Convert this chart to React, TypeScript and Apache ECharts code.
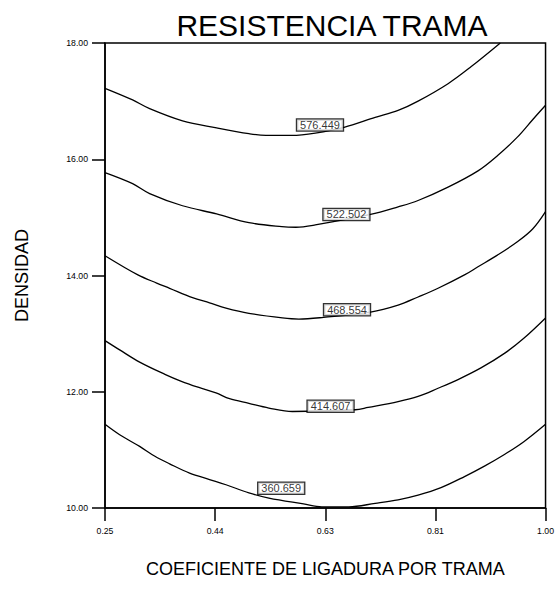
import React, { useEffect, useRef } from "react";
import * as echarts from "echarts";

const xTicks = [0.25, 0.4375, 0.625, 0.8125, 1.0];
const xTickLabels = ["0.25", "0.44", "0.63", "0.81", "1.00"];
const yTicks = [10, 12, 14, 16, 18];

const contourLevels = ["576.449", "522.502", "468.554", "414.607", "360.659"];

const curve576 = [
  [0.25, 17.22], [0.297, 17.02], [0.326, 16.87], [0.382, 16.66], [0.44, 16.54],
  [0.495, 16.44], [0.524, 16.41], [0.568, 16.41], [0.608, 16.45], [0.657, 16.55],
  [0.71, 16.72], [0.749, 16.84], [0.783, 17.0], [0.834, 17.3], [0.873, 17.59], [0.923, 18.0],
];
const curve522 = [
  [0.25, 15.77], [0.297, 15.58], [0.326, 15.41], [0.382, 15.2], [0.44, 15.06],
  [0.495, 14.91], [0.551, 14.84], [0.575, 14.83], [0.608, 14.87], [0.702, 15.05],
  [0.749, 15.18], [0.783, 15.29], [0.834, 15.52], [0.885, 15.8], [0.918, 16.06],
  [0.952, 16.38], [0.978, 16.68], [1.0, 16.93],
];
const curve468 = [
  [0.25, 14.34], [0.306, 14.01], [0.338, 13.87], [0.36, 13.78], [0.399, 13.62],
  [0.428, 13.53], [0.456, 13.44], [0.495, 13.35], [0.552, 13.27], [0.58, 13.25],
  [0.622, 13.28], [0.702, 13.37], [0.749, 13.49], [0.783, 13.63], [0.817, 13.78],
  [0.862, 14.01], [0.885, 14.15], [0.918, 14.35], [0.952, 14.58], [0.978, 14.8], [1.0, 15.1],
];
const curve414 = [
  [0.25, 12.88], [0.275, 12.72], [0.309, 12.51], [0.352, 12.3], [0.38, 12.18],
  [0.411, 12.07], [0.439, 11.98], [0.462, 11.88], [0.495, 11.8], [0.529, 11.72],
  [0.569, 11.66], [0.676, 11.69], [0.698, 11.73], [0.749, 11.83], [0.783, 11.92],
  [0.817, 12.06], [0.851, 12.21], [0.89, 12.41], [0.93, 12.66], [0.963, 12.92], [1.0, 13.27],
];
const curve360 = [
  [0.25, 11.44], [0.275, 11.26], [0.309, 11.06], [0.335, 10.89], [0.36, 10.76],
  [0.394, 10.6], [0.428, 10.49], [0.456, 10.4], [0.495, 10.26], [0.529, 10.17],
  [0.588, 10.07], [0.619, 10.02], [0.665, 10.02], [0.71, 10.08], [0.749, 10.14],
  [0.783, 10.22], [0.822, 10.35], [0.862, 10.54], [0.896, 10.72], [0.93, 10.92],
  [0.963, 11.14], [1.0, 11.44],
];
const curves = [curve576, curve522, curve468, curve414, curve360];

const labelX = [0.616, 0.661, 0.662, 0.634, 0.55];
const labelY = [16.59, 15.05, 13.41, 11.75, 10.34];

const FONT = "'Liberation Sans', Arial, sans-serif";

export default function App() {
  const ref = useRef<HTMLDivElement>(null);
  useEffect(() => {
    if (!ref.current) return;
    const chart = echarts.init(ref.current, undefined, { renderer: "svg" });
    const lineSeries = curves.map((c, i) => ({
      type: "line",
      name: contourLevels[i],
      data: c,
      smooth: 0.35,
      symbol: "none",
      lineStyle: { color: "#000", width: 1.3 },
      z: 2,
    }));
    chart.setOption({
      animation: false,
      backgroundColor: "#fff",
      textStyle: { fontFamily: FONT },
      title: {
        text: "RESISTENCIA TRAMA",
        left: 327,
        top: 5,
        textAlign: "center",
        textStyle: { fontFamily: FONT, fontSize: 30, fontWeight: "normal", color: "#000" },
      },
      grid: {
        left: 105,
        right: 9,
        top: 43,
        bottom: 95,
        show: true,
        borderColor: "#000",
        borderWidth: 1.5,
        backgroundColor: "transparent",
      },
      xAxis: {
        type: "value",
        min: 0.25,
        max: 1.0,
        name: "COEFICIENTE DE LIGADURA POR TRAMA",
        nameLocation: "middle",
        nameGap: 52,
        nameTextStyle: { fontFamily: FONT, fontSize: 18, color: "#000" },
        axisLine: { show: true, lineStyle: { color: "#000", width: 1.5 } },
        axisTick: {
          show: true,
          inside: false,
          length: 13,
          customValues: xTicks,
          lineStyle: { color: "#000", width: 1.5 },
        },
        axisLabel: {
          customValues: xTicks,
          margin: 18,
          fontSize: 8.7,
          fontFamily: FONT,
          color: "#000",
          formatter: (v: number) => {
            const idx = xTicks.findIndex((t) => Math.abs(t - v) < 1e-6);
            return idx >= 0 ? xTickLabels[idx] : "";
          },
        },
        splitLine: { show: false },
      },
      yAxis: {
        type: "value",
        min: 10,
        max: 18,
        interval: 2,
        name: "DENSIDAD",
        nameLocation: "middle",
        nameGap: 74,
        nameRotate: 90,
        nameTextStyle: { fontFamily: FONT, fontSize: 18, color: "#000" },
        axisLine: { show: true, lineStyle: { color: "#000", width: 1.5 } },
        axisTick: { show: true, inside: false, length: 13, lineStyle: { color: "#000", width: 1.5 } },
        axisLabel: {
          margin: 17,
          fontSize: 8.7,
          fontFamily: FONT,
          color: "#000",
          formatter: (v: number) => (yTicks.includes(v) ? v.toFixed(2) : ""),
        },
        splitLine: { show: false },
      },
      series: [
        ...lineSeries,
        {
          type: "scatter",
          name: "labels",
          data: labelX.map((x, i) => [x, labelY[i], contourLevels[i]]),
          symbolSize: 1,
          itemStyle: { color: "rgba(0,0,0,0)" },
          z: 5,
          label: {
            show: true,
            position: "inside",
            formatter: (p: any) => p.data[2],
            fontFamily: FONT,
            fontSize: 11,
            color: "#000",
            backgroundColor: "#fff",
            borderColor: "#000",
            borderWidth: 1.3,
            padding: [1, 3, 0, 3],
            lineHeight: 10,
          },
        },
      ],
    });
    return () => chart.dispose();
  }, []);
  return (
    <div
      ref={ref}
      style={{ position: "fixed", left: 0, top: 0, width: 557, height: 603 }}
    />
  );
}
